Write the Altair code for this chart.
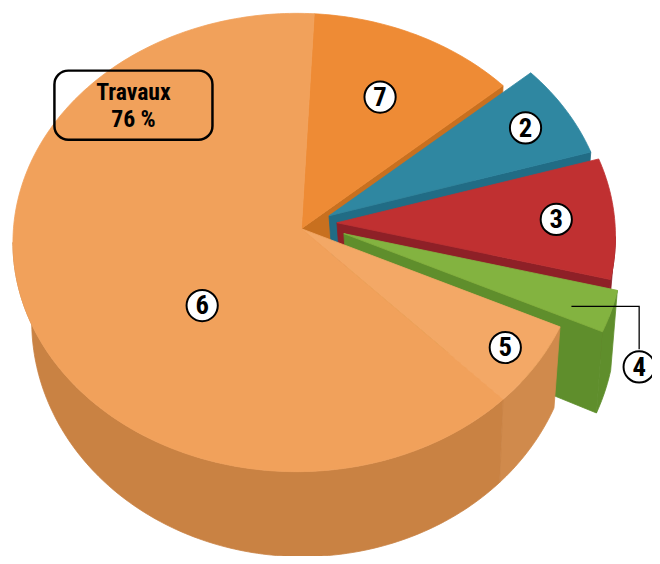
import altair as alt
import pandas as pd
import numpy as np

# ---------------- data ----------------
slices = ["7", "2", "3", "4", "5", "6"]          # clockwise from 12 o'clock
shares = [12, 6.5, 8.5, 3, 6, 64]                # % of total
group_title = "Travaux"
group_value = "76 %"

# ---------------- style ----------------
top_colors = ["#EE8B35", "#2F87A1", "#C03031", "#83B340", "#F3A866", "#F1A15B"]
side_colors = ["#C8701F", "#216C85", "#8E2027", "#5F8E2C", "#D08A4C", "#C98243"]
explode_dx = [0, 28, 36, 43, 0, 0]
explode_dy = [0, -13, -6, 5, 0, 0]
FONT = "Liberation Sans Narrow, Roboto Condensed, DejaVu Sans Condensed, Arial Narrow, sans-serif"

# 3-D geometry (page pixels)
CX, CY, RX, RY = 300, 242, 287, 232          # top ellipse
CXB, CYB, RXB, RYB = 306, 322, 274, 238      # bottom ellipse
AX, AY = 305, 228                            # apex of the top face
ABX, ABY = AX + (CXB - CX), AY + (CYB - CY)  # apex of the bottom face
START = 3.6

cum = np.cumsum([0] + shares)
t0 = START + 360 * cum[:-1] / cum[-1]
t1 = START + 360 * cum[1:] / cum[-1]

rows = []
polys = []


def add(pid, i, ring, t, seq):
    rows.append(dict(poly=pid, slice=slices[i], ring=ring, t=float(t), seq=seq,
                     ox=explode_dx[i], oy=explode_dy[i]))


def arc(a, b):
    n = max(2, int(abs(b - a)) + 1)
    return np.linspace(a, b, n)


n = len(slices)
# 1) radial cut faces that become visible next to exploded slices
for i, s in enumerate(slices):
    nx = (i + 1) % n
    ex = explode_dx[i] or explode_dy[i]
    nex = explode_dx[nx] or explode_dy[nx]
    if (ex or nex) and 0 < (t1[i] % 360) < 180:
        pid = f"face{s}"
        add(pid, i, "apex", t1[i], 0)
        add(pid, i, "top", t1[i], 1)
        add(pid, i, "bot", t1[i], 2)
        add(pid, i, "apexb", t1[i], 3)
        polys.append((pid, side_colors[i]))
# 2) outer walls facing the viewer
for i, s in enumerate(slices):
    a, b = max(t0[i], 90), min(t1[i], 270)
    if b > a:
        pid = f"wall{s}"
        ts = arc(a, b)
        k = 0
        for t in ts:
            add(pid, i, "top", t, k); k += 1
        for t in ts[::-1]:
            add(pid, i, "bot", t, k); k += 1
        polys.append((pid, side_colors[i]))
# 3) top faces
for i, s in enumerate(slices):
    pid = f"top{s}"
    add(pid, i, "apex", t0[i], 0)
    for k, t in enumerate(arc(t0[i], t1[i]), start=1):
        add(pid, i, "top", t, k)
    polys.append((pid, top_colors[i]))

verts = pd.DataFrame(rows)

rad = "(datum.t * PI / 180)"
xexpr = (f"(datum.ring == 'apex' ? {AX} : datum.ring == 'apexb' ? {ABX} : "
         f"datum.ring == 'top' ? {CX} + {RX} * sin({rad}) : {CXB} + {RXB} * sin({rad})) + datum.ox")
yexpr = (f"(datum.ring == 'apex' ? {AY} : datum.ring == 'apexb' ? {ABY} : "
         f"datum.ring == 'top' ? {CY} - {RY} * cos({rad}) : {CYB} - {RYB} * cos({rad})) + datum.oy")

W, H = 652, 548
xs = alt.Scale(domain=[8, 8 + W], nice=False, zero=False)
ys = alt.Scale(domain=[8, 8 + H], nice=False, zero=False, reverse=True)
X = lambda f: alt.X(f, scale=xs, axis=None)
Y = lambda f: alt.Y(f, scale=ys, axis=None)

layers = []
for pid, col in polys:
    layers.append(
        alt.Chart(verts)
        .transform_filter(alt.datum.poly == pid)
        .transform_calculate(x=xexpr, y=yexpr)
        .mark_line(filled=True, interpolate="linear-closed", fill=col, stroke=col, strokeWidth=0.8)
        .encode(x=X("x:Q"), y=Y("y:Q"), order="seq:Q")
    )


# ---------------- labels ----------------
def point(i, t, f):
    r = np.radians(t)
    ex = CX + RX * np.sin(r)
    ey = CY - RY * np.cos(r)
    return (AX + explode_dx[i] + f * (ex - AX), AY + explode_dy[i] + f * (ey - AY))


mid = (t0 + t1) / 2
label_angle = [mid[0], mid[1], mid[2], None, mid[4], 228]
label_frac = [0.68, 0.83, 0.79, None, 0.87, 0.46]
lab = []
for i, s in enumerate(slices):
    if label_angle[i] is not None:
        x, y = point(i, label_angle[i], label_frac[i])
        lab.append(dict(name=s, x=x, y=y))
# callout for slice 4
i4 = slices.index("4")
sx, sy = point(i4, 108, 0.86)
elbow_x, circle_y = 647, 368
lab.append(dict(name="4", x=elbow_x, y=circle_y))
labels = pd.DataFrame(lab)
leader = pd.DataFrame(dict(x=[sx, elbow_x, elbow_x], y=[sy, sy, circle_y - 18], k=[0, 1, 2]))

layers.append(
    alt.Chart(leader).mark_line(color="black", strokeWidth=1.3)
    .encode(x=X("x:Q"), y=Y("y:Q"), order="k:Q")
)
layers.append(
    alt.Chart(labels).mark_point(shape="circle", size=1000, filled=True, fill="white",
                                 stroke="black", strokeWidth=2, opacity=1)
    .encode(x=X("x:Q"), y=Y("y:Q"))
)
layers.append(
    alt.Chart(labels).mark_text(font=FONT, fontSize=27, fontWeight="bold", color="black",
                                align="center", baseline="middle", dy=1)
    .encode(x=X("x:Q"), y=Y("y:Q"), text="name:N")
)

# Travaux box
box = pd.DataFrame(dict(x=[55], x2=[215], y=[68], y2=[138]))
layers.append(
    alt.Chart(box).mark_rect(filled=False, stroke="black", strokeWidth=2.5, cornerRadius=14)
    .encode(x=X("x:Q"), x2="x2:Q", y=Y("y:Q"), y2="y2:Q")
)
box_text = pd.DataFrame(dict(x=[135, 135], y=[98, 125], txt=[group_title, group_value]))
layers.append(
    alt.Chart(box_text).mark_text(font=FONT, fontSize=24, fontWeight="bold", color="black",
                                  align="center", baseline="alphabetic")
    .encode(x=X("x:Q"), y=Y("y:Q"), text="txt:N")
)

chart = (
    alt.layer(*layers)
    .properties(width=W, height=H, padding=0, autosize="none", background="white")
    .configure_view(stroke=None)
)
chart.save("out.html", embed_options={"renderer": "svg", "actions": False})
